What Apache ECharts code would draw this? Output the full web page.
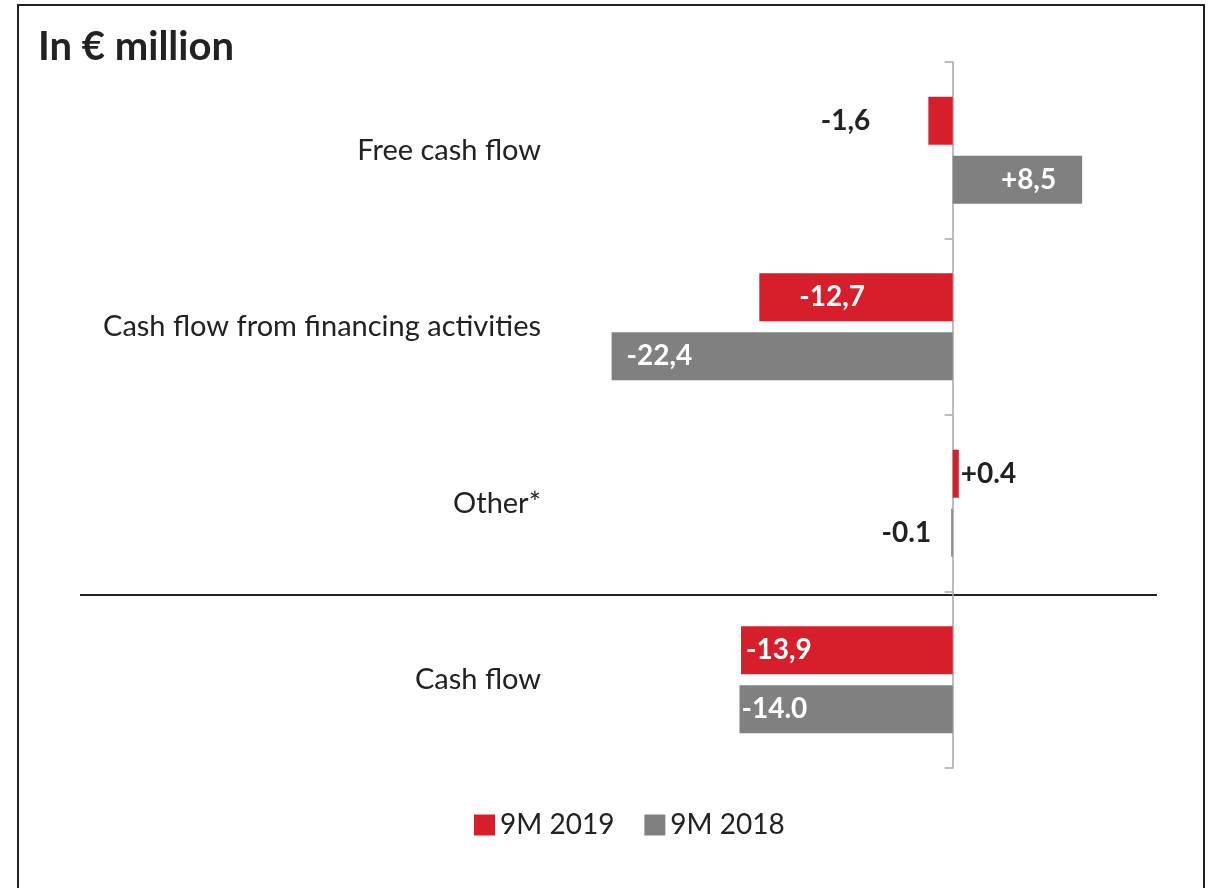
<!DOCTYPE html>
<html>
<head>
<meta charset="utf-8">
<title>Cash flow</title>
<script src="https://cdn.jsdelivr.net/npm/echarts@6/dist/echarts.min.js"></script>
<style>
  html, body { margin: 0; padding: 0; background: #fff; }
  #chart { width: 1218px; height: 888px; }
</style>
</head>
<body>
<div id="chart"></div>
<script>
const categories = ['Free cash flow', 'Cash flow from financing activities', 'Other*', 'Cash flow'];
const values2019 = [-1.6, -12.7, 0.4, -13.9];
const values2018 = [8.5, -22.4, -0.1, -14.0];
const labels2019 = ['-1,6', '-12,7', '+0.4', '-13,9'];
const labels2018 = ['+8,5', '-22,4', '-0.1', '-14.0'];

const RED = '#d71f2b';
const GRAY = '#808080';
const FONT = 'Lato, "Open Sans", sans-serif';

// where each value label sits (styling only)
const place2019 = [
  { position: 'left', distance: 58, color: '#222' },
  { position: 'insideLeft', distance: 40, color: '#fff' },
  { position: 'right', distance: 2, color: '#222' },
  { position: 'insideLeft', distance: 5, color: '#fff' }
];
const place2018 = [
  { position: 'insideRight', distance: 26, color: '#fff' },
  { position: 'insideLeft', distance: 15, color: '#fff' },
  { position: 'left', distance: 20, color: '#222' },
  { position: 'insideLeft', distance: 2, color: '#fff' }
];

function buildData(values, labels, places) {
  return values.map((v, i) => ({
    value: v,
    label: {
      show: true,
      position: places[i].position,
      distance: places[i].distance,
      color: places[i].color,
      formatter: labels[i]
    }
  }));
}

const chart = echarts.init(document.getElementById('chart'));

const option = {
  animation: false,
  textStyle: { fontFamily: FONT },
  graphic: [
    {
      type: 'rect',
      shape: { x: 18, y: 5, width: 1186, height: 900 },
      style: { fill: 'none', stroke: '#222', lineWidth: 2 },
      silent: true
    },
    {
      type: 'text',
      left: 38,
      top: 27,
      style: { text: 'In € million', font: 'bold 40px ' + FONT, fill: '#222' }
    },
    {
      type: 'line',
      shape: { x1: 80, y1: 595, x2: 1157, y2: 595 },
      style: { stroke: '#222', lineWidth: 2 }
    }
  ],
  legend: {
    data: ['9M 2019', '9M 2018'],
    bottom: 44,
    left: 469,
    icon: 'rect',
    itemWidth: 21,
    itemHeight: 21,
    itemGap: 30,
    textStyle: { fontSize: 28, color: '#222', fontFamily: FONT }
  },
  grid: { left: 572, right: 113, top: 62, bottom: 120, containLabel: false },
  xAxis: {
    type: 'value',
    min: -25,
    max: 10,
    show: false
  },
  yAxis: [
    {
      type: 'category',
      data: categories,
      inverse: true,
      position: 'left',
      axisLine: { show: false, onZero: false },
      axisTick: { show: false },
      axisLabel: { margin: 31, fontSize: 29, color: '#222', fontFamily: FONT }
    },
    {
      type: 'category',
      data: categories,
      inverse: true,
      position: 'left',
      axisLine: { show: true, onZero: true, lineStyle: { color: '#a6a6a6', width: 1.5 } },
      axisTick: { show: true, length: 8, lineStyle: { color: '#a6a6a6', width: 1.5 } },
      axisLabel: { show: false }
    }
  ],
  series: [
    {
      name: '9M 2019',
      type: 'bar',
      yAxisIndex: 0,
      barWidth: 48,
      barGap: '23%',
      itemStyle: { color: RED },
      label: { fontSize: 28, fontWeight: 'bold', fontFamily: FONT },
      data: buildData(values2019, labels2019, place2019)
    },
    {
      name: '9M 2018',
      type: 'bar',
      yAxisIndex: 0,
      barWidth: 48,
      barGap: '23%',
      itemStyle: { color: GRAY },
      label: { fontSize: 28, fontWeight: 'bold', fontFamily: FONT },
      data: buildData(values2018, labels2018, place2018)
    }
  ]
};

chart.setOption(option);
</script>
</body>
</html>
